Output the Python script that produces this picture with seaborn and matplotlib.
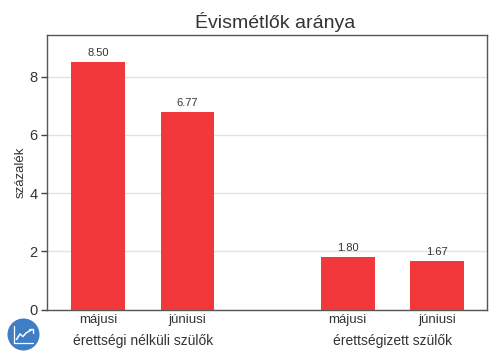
import matplotlib
matplotlib.use("Agg")
import matplotlib.pyplot as plt
from matplotlib.patches import Circle
from matplotlib.lines import Line2D
import seaborn as sns
import pandas as pd

months = ["májusi", "júniusi", "májusi", "júniusi"]
values = [8.50, 6.77, 1.80, 1.67]
value_labels = ["8.50", "6.77", "1.80", "1.67"]
groups = ["érettségi nélküli szülők", "érettségizett szülők"]
yticks = [0, 2, 4, 6, 8]
title = "Évismétlők aránya"
ylabel = "százalék"

W, H = 500, 364
sns.set_theme(style="white")
plt.rcParams["font.family"] = ["Liberation Sans", "DejaVu Sans"]

fig = plt.figure(figsize=(W / 100, H / 100), dpi=100, facecolor="white")
L, R, T, B = 47.5, 487, 34.5, 309.5
ax = fig.add_axes([(L - 0.5) / W, 1 - B / H, (R - L) / W, (B - T) / H])

pos = [0, 1, 2.79, 3.79]
df = pd.DataFrame({"pos": pos, "value": values})
sns.barplot(data=df, x="pos", y="value", native_scale=True, width=0.6,
            color="#F2383A", saturation=1, ax=ax, zorder=3, linewidth=0)

ax.set_xlim(-0.572, 4.342)
ax.set_ylim(0, 9.45)
ax.set_yticks(yticks)
ax.set_xticks(pos)
ax.set_xticklabels(months)
ax.set_xlabel("")
ax.set_ylabel("")
ax.yaxis.grid(True, color="#E2E2E2", linewidth=1, zorder=0)
ax.xaxis.grid(False)
ax.set_axisbelow(True)
ax.tick_params(axis="y", length=4, width=1, color="#444444", labelsize=10.5,
               labelcolor="#333333", pad=3, left=True)
ax.tick_params(axis="x", length=0, labelsize=9.5, labelcolor="#333333", pad=3.5)
for s in ax.spines.values():
    s.set_color("#555555")
    s.set_linewidth(1)

for x, v, t in zip(pos, values, value_labels):
    ax.annotate(t, (x, v), xytext=(0, 3), textcoords="offset points", ha="center",
                va="bottom", fontsize=8, color="#333333")

fig.text(20.5 / W, 1 - 172 / H, ylabel, rotation=90, ha="center", va="center",
         fontsize=9.5, color="#333333")
fig.text(275 / W, 1 - 22 / H, title, ha="center", va="center", fontsize=14, color="#333333")
for i, g in enumerate(groups):
    xc = (pos[2 * i] + pos[2 * i + 1]) / 2
    px = ax.transData.transform((xc, 0))[0] / W
    fig.text(px, 1 - 340.5 / H, g, ha="center", va="center", fontsize=10, color="#333333")

# logo badge
logo = fig.add_axes([0, 0, 1, 1], facecolor="none")
logo.set_xlim(0, W)
logo.set_ylim(H, 0)
logo.axis("off")
logo.add_patch(Circle((23.5, 334.5), 16, color="#3F7EC4", lw=0))
logo.add_line(Line2D([14, 14, 33], [325.5, 342.5, 342.5], color="white", lw=0.9))
logo.add_line(Line2D([16.5, 20, 23, 26, 32], [339.5, 334, 336.5, 333, 329.5], color="white", lw=1.1))
logo.add_line(Line2D([28.5, 32.5, 32.5], [329, 329, 332.5], color="white", lw=0.9))

fig.savefig("out.png", dpi=100, facecolor="white")
